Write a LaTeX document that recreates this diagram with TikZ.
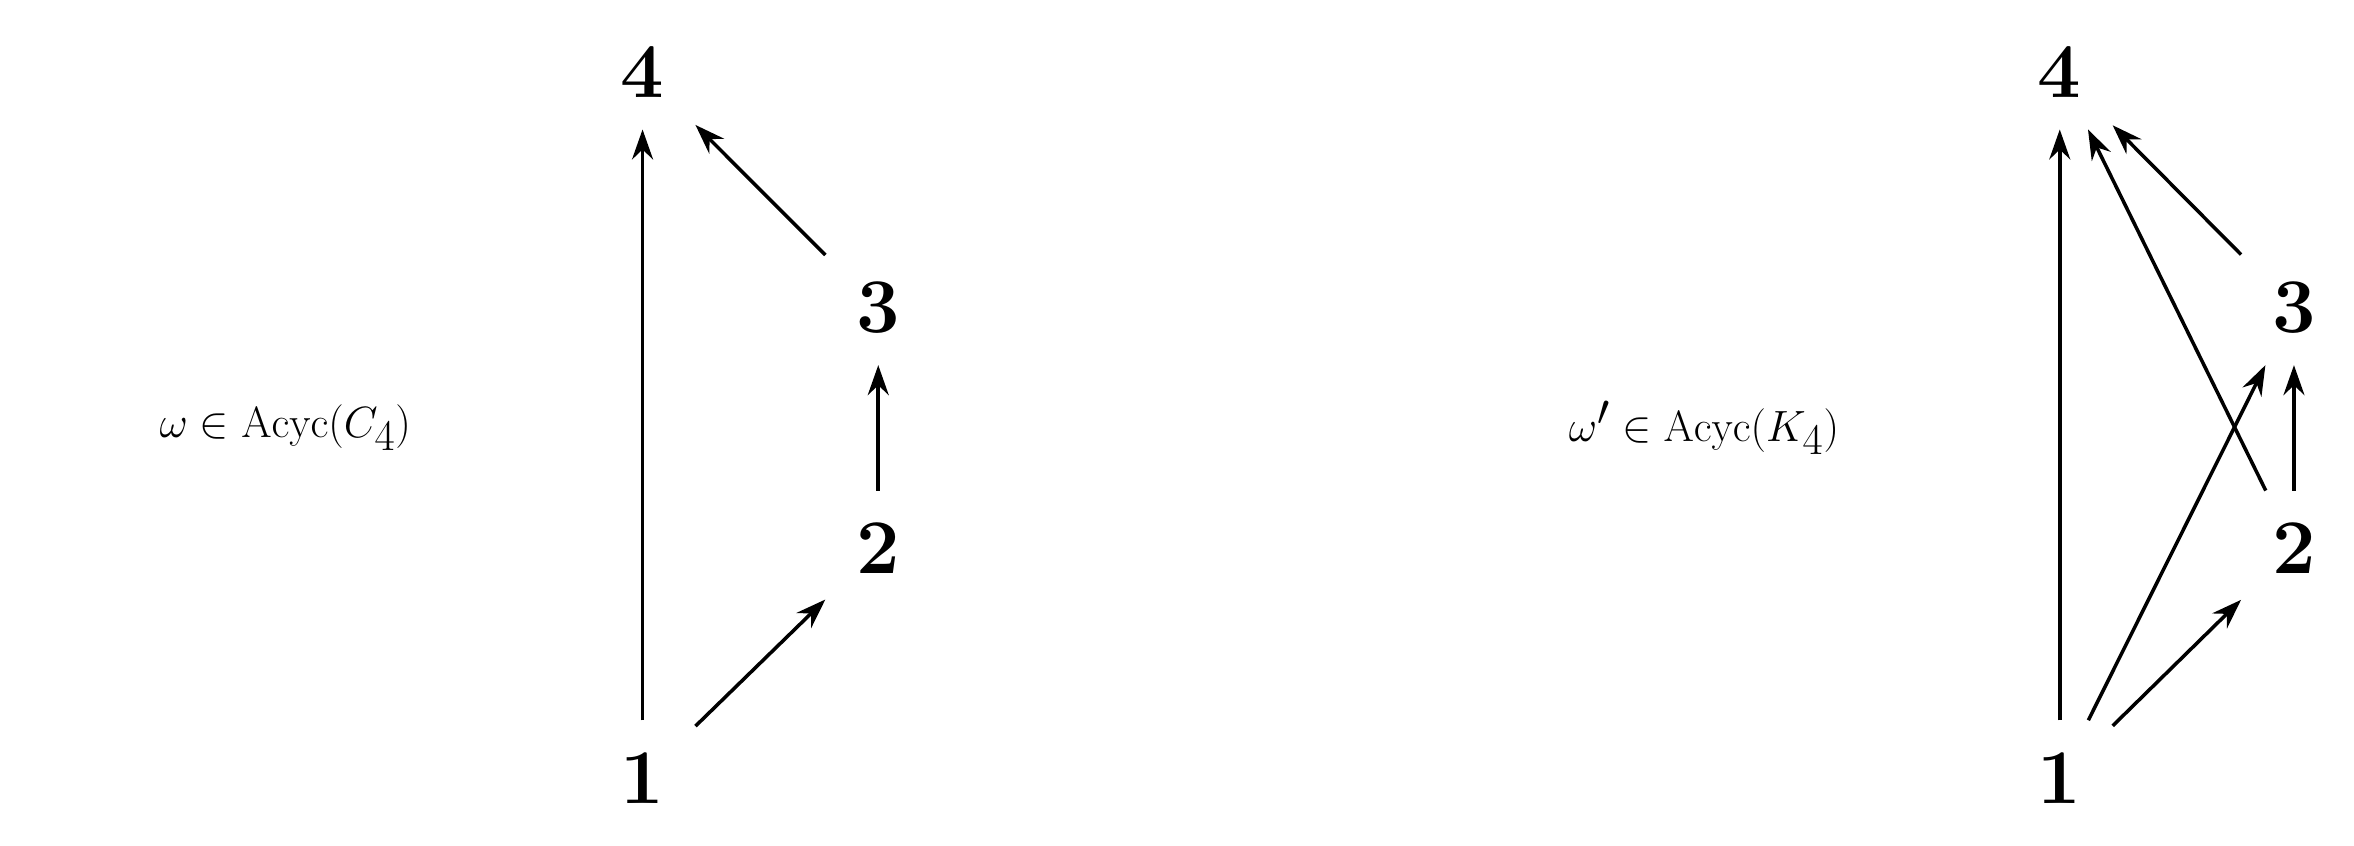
\documentclass[tikz,border=0pt]{standalone}
\usetikzlibrary{arrows.meta}
\begin{document}
\begin{tikzpicture}[x=0.03cm,y=-0.03cm,
  v/.style={rectangle,inner sep=0,minimum width=2.1cm,minimum height=2.28cm,font=\fontsize{44}{50}\selectfont\bfseries},
  lab/.style={font=\fontsize{46}{54}\selectfont},
  e/.style={line width=2pt,-{Stealth[length=0.6cm,width=0.42cm,inset=0.2cm]}}]
\useasboundingbox (0,0) rectangle (1568,563);
\node[v] (a1) at (428,518) {1};
\node[v] (a2) at (585,365) {2};
\node[v] (a3) at (585,205) {3};
\node[v] (a4) at (428,48) {4};
\node[lab] (la) at (190,285) {$\omega\in\mathrm{Acyc}(C_4)$};
\draw[e] (a1) -- (a4);
\draw[e] (a1) -- (a2);
\draw[e] (a2) -- (a3);
\draw[e] (a3) -- (a4);
\node[v] (b1) at (1372,518) {1};
\node[v] (b2) at (1528,365) {2};
\node[v] (b3) at (1528,205) {3};
\node[v] (b4) at (1372,48) {4};
\node[lab] (lb) at (1135,285) {$\omega'\in\mathrm{Acyc}(K_4)$};
\draw[e] (b1) -- (b4);
\draw[e] (b1) -- (b2);
\draw[e] (b2) -- (b3);
\draw[e] (b3) -- (b4);
\draw[e] (b1) -- (b3);
\draw[e] (b2) -- (b4);
\end{tikzpicture}
\end{document}
